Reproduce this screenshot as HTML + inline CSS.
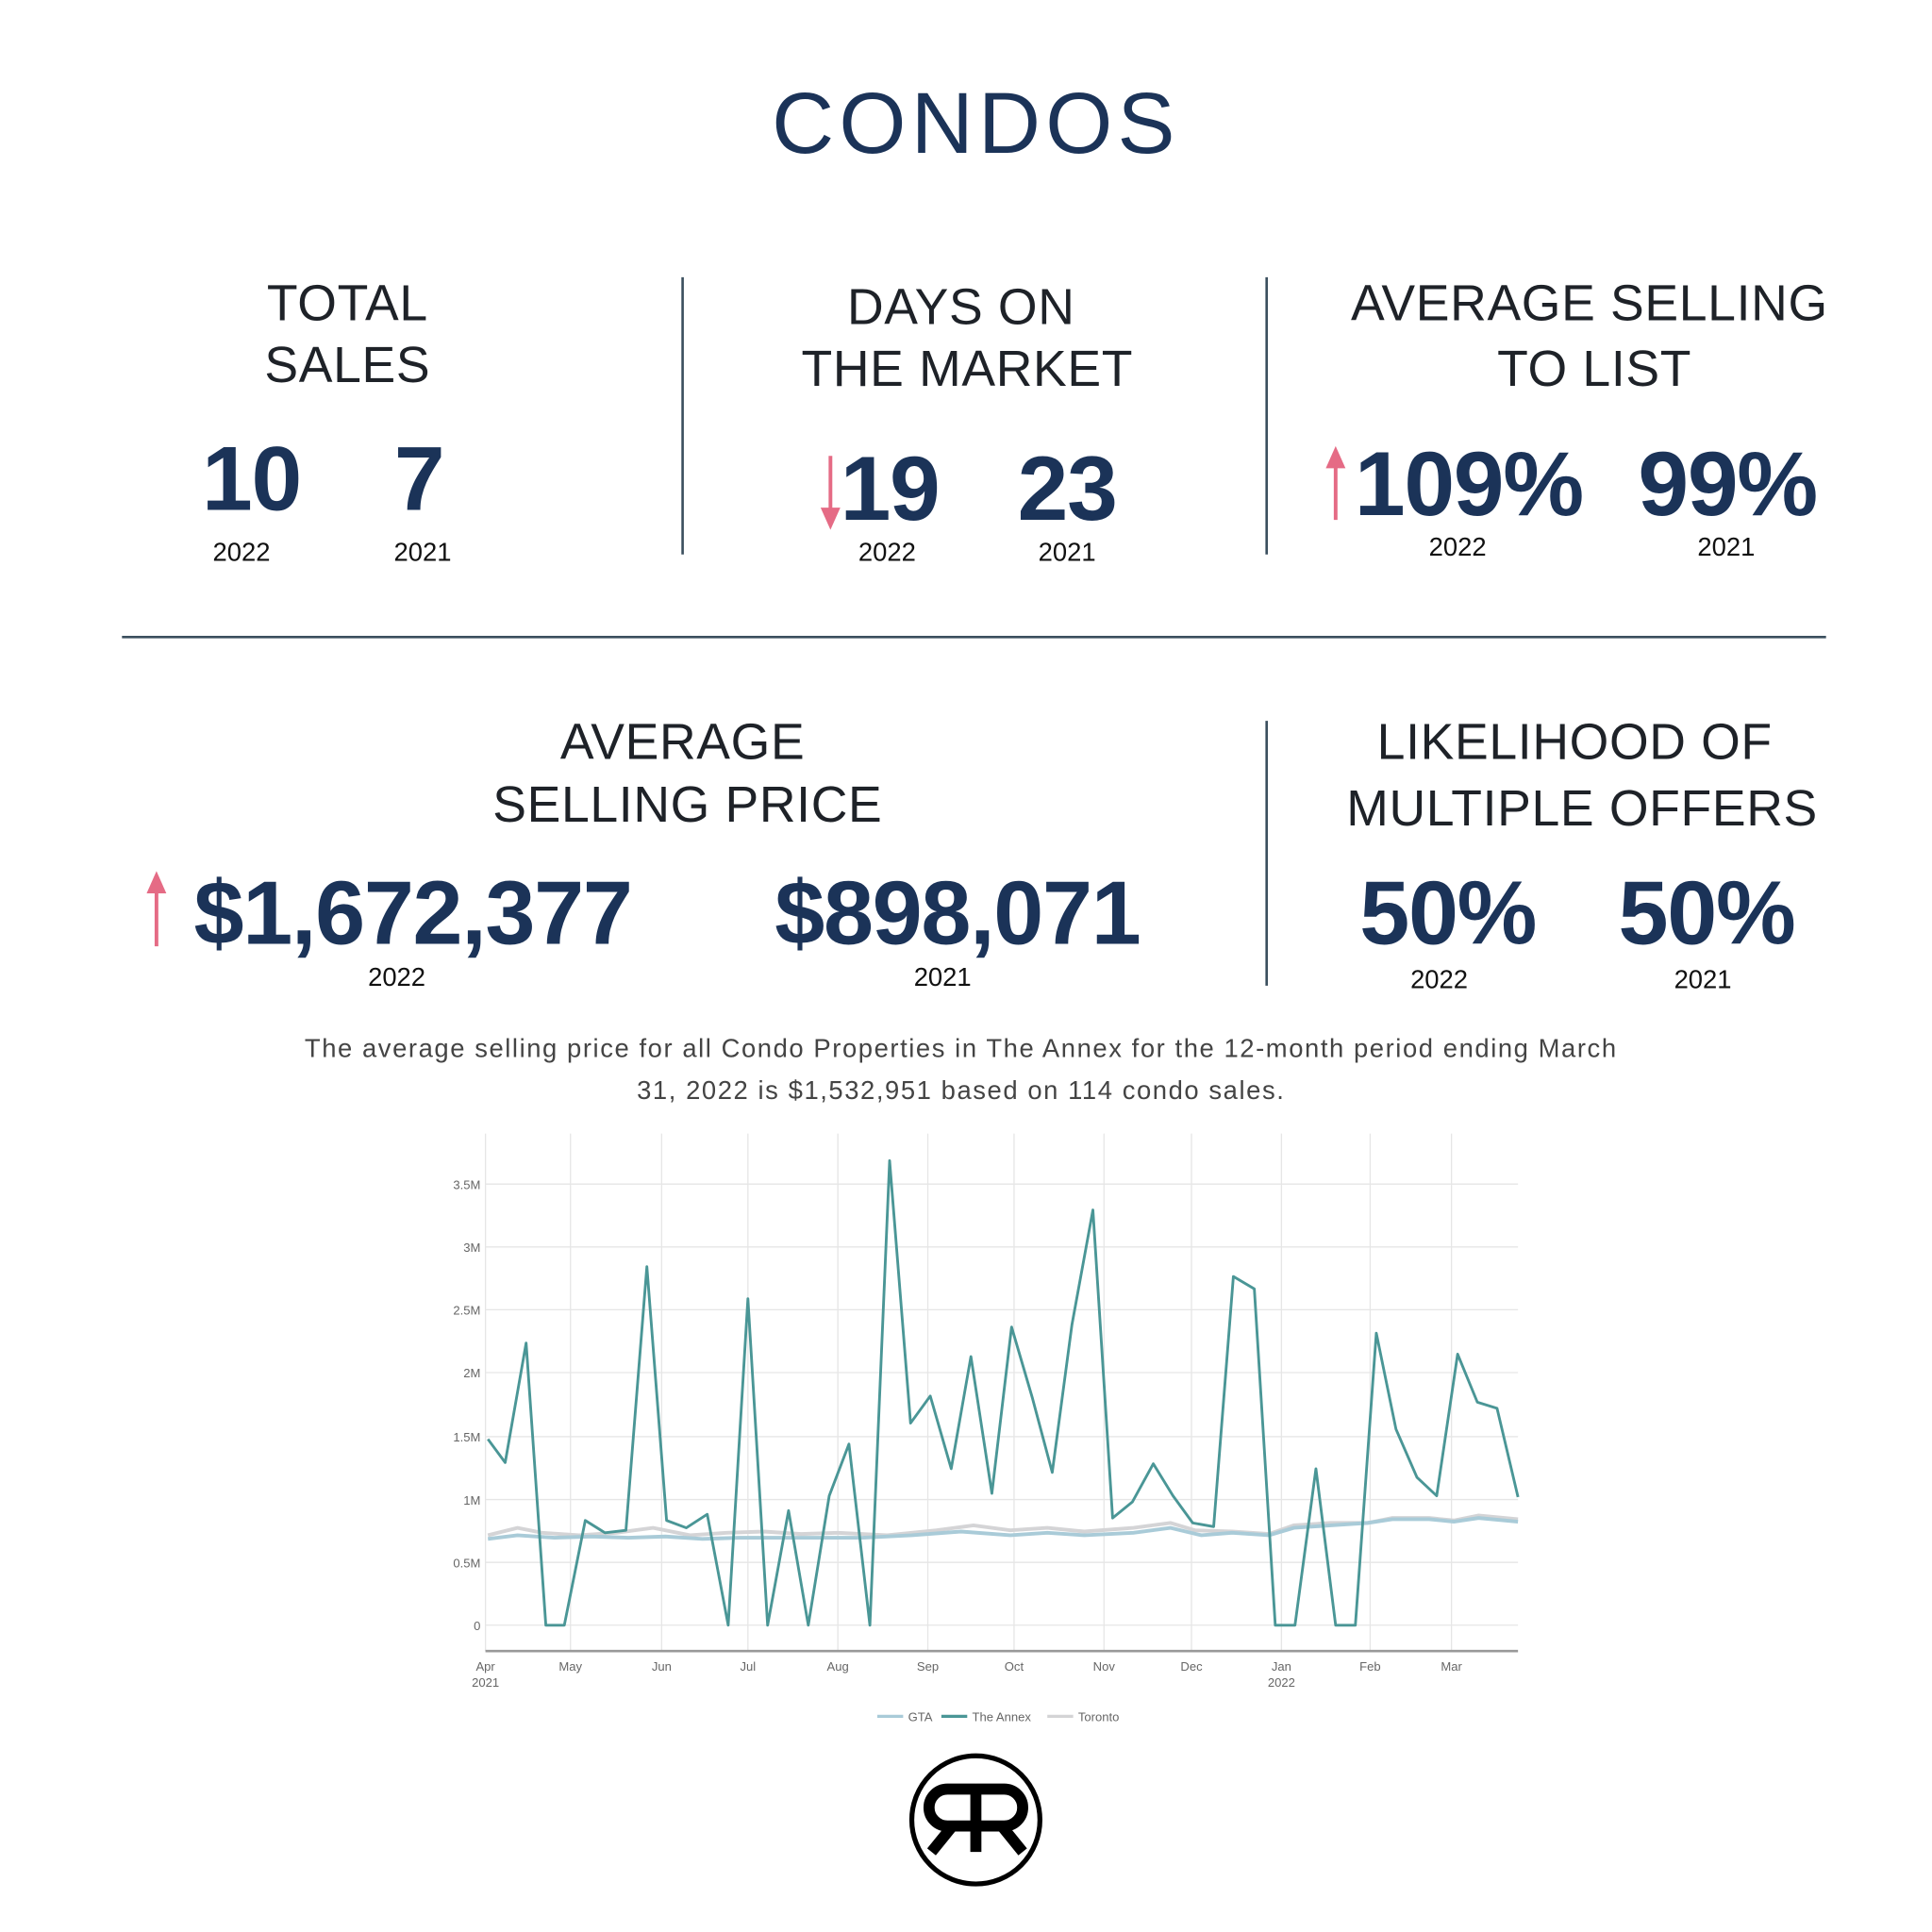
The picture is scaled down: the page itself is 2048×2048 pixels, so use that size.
<!DOCTYPE html>
<html><head><meta charset="utf-8"><style>
html,body{margin:0;padding:0;background:#fff;width:2048px;height:2048px;overflow:hidden}
svg{display:block}
text{font-family:"Liberation Sans",sans-serif}
.h{font-size:41px;fill:#1e2228;text-anchor:middle;letter-spacing:0.5px}
.n{font-size:74px;fill:#1b3358;font-weight:bold;text-anchor:middle;letter-spacing:-1px}
.p{font-size:73px;fill:#1b3358;font-weight:bold;text-anchor:middle;letter-spacing:-1px}
.y{font-size:21px;fill:#111;text-anchor:middle}
.t{font-size:10px;fill:#666;text-anchor:end}
.m{font-size:10px;fill:#666;text-anchor:middle}
</style></head><body>
<svg width="2048" height="2048" viewBox="0 0 1568 1568" xmlns="http://www.w3.org/2000/svg">
<rect width="1568" height="1568" fill="#fff"/>
<text x="792" y="124" font-size="70" fill="#1b3358" text-anchor="middle" letter-spacing="4">CONDOS</text>

<text class="h" x="282" y="260">TOTAL</text><text class="h" x="282" y="310">SALES</text>
<text class="h" x="780" y="263">DAYS ON</text><text class="h" x="785" y="313">THE MARKET</text>
<text class="h" x="1290" y="260">AVERAGE SELLING</text><text class="h" x="1294" y="313">TO LIST</text>

<line x1="554" y1="225" x2="554" y2="450" stroke="#3b4f5e" stroke-width="2"/>
<line x1="1028" y1="225" x2="1028" y2="450" stroke="#3b4f5e" stroke-width="2"/>
<line x1="99" y1="517" x2="1482" y2="517" stroke="#3b4f5e" stroke-width="2"/>
<line x1="1028" y1="585" x2="1028" y2="800" stroke="#3b4f5e" stroke-width="2"/>

<text class="n" x="204" y="414">10</text><text class="n" x="340" y="414">7</text>
<text class="y" x="196" y="455">2022</text><text class="y" x="343" y="455">2021</text>

<line x1="674" y1="370" x2="674" y2="420" stroke="#e56b85" stroke-width="3"/>
<polygon points="666,412 682,412 674,430" fill="#e56b85"/>
<text class="n" x="722" y="422">19</text><text class="n" x="866" y="422">23</text>
<text class="y" x="720" y="455">2022</text><text class="y" x="866" y="455">2021</text>

<line x1="1084" y1="372" x2="1084" y2="422" stroke="#e56b85" stroke-width="3"/>
<polygon points="1076,380 1092,380 1084,362" fill="#e56b85"/>
<text class="n" x="1192" y="418">109%</text><text class="n" x="1402" y="418">99%</text>
<text class="y" x="1183" y="451">2022</text><text class="y" x="1401" y="451">2021</text>

<text class="h" x="554" y="616">AVERAGE</text><text class="h" x="558" y="667">SELLING PRICE</text>
<text class="h" x="1278" y="616">LIKELIHOOD OF</text><text class="h" x="1284" y="670">MULTIPLE OFFERS</text>

<line x1="127" y1="717" x2="127" y2="768" stroke="#e56b85" stroke-width="3"/>
<polygon points="119,725 135,725 127,707" fill="#e56b85"/>
<text class="p" x="335" y="766">$1,672,377</text><text class="p" x="777" y="766">$898,071</text>
<text class="y" x="322" y="800">2022</text><text class="y" x="765" y="800">2021</text>
<text class="p" x="1175" y="766">50%</text><text class="p" x="1385" y="766">50%</text>
<text class="y" x="1168" y="802">2022</text><text class="y" x="1382" y="802">2021</text>

<text x="780" y="858" font-size="21" fill="#444" text-anchor="middle" letter-spacing="1.2">The average selling price for all Condo Properties in The Annex for the 12-month period ending March</text>
<text x="780" y="892" font-size="21" fill="#444" text-anchor="middle" letter-spacing="1.2">31, 2022 is $1,532,951 based on 114 condo sales.</text>

<g stroke="#e6e6e6" stroke-width="1">
<line x1="394" y1="920" x2="394" y2="1340"/><line x1="463" y1="920" x2="463" y2="1340"/><line x1="537" y1="920" x2="537" y2="1340"/><line x1="607" y1="920" x2="607" y2="1340"/><line x1="680" y1="920" x2="680" y2="1340"/><line x1="753" y1="920" x2="753" y2="1340"/><line x1="823" y1="920" x2="823" y2="1340"/><line x1="896" y1="920" x2="896" y2="1340"/><line x1="967" y1="920" x2="967" y2="1340"/><line x1="1040" y1="920" x2="1040" y2="1340"/><line x1="1112" y1="920" x2="1112" y2="1340"/><line x1="1178" y1="920" x2="1178" y2="1340"/>
<line x1="394" y1="961" x2="1232" y2="961"/><line x1="394" y1="1012" x2="1232" y2="1012"/><line x1="394" y1="1063" x2="1232" y2="1063"/><line x1="394" y1="1114" x2="1232" y2="1114"/><line x1="394" y1="1166" x2="1232" y2="1166"/><line x1="394" y1="1217" x2="1232" y2="1217"/><line x1="394" y1="1268" x2="1232" y2="1268"/><line x1="394" y1="1319" x2="1232" y2="1319"/>
</g>
<line x1="394" y1="1340" x2="1232" y2="1340" stroke="#999" stroke-width="2"/>
<text class="t" x="390" y="965">3.5M</text><text class="t" x="390" y="1016">3M</text><text class="t" x="390" y="1067">2.5M</text><text class="t" x="390" y="1118">2M</text><text class="t" x="390" y="1170">1.5M</text><text class="t" x="390" y="1221">1M</text><text class="t" x="390" y="1272">0.5M</text><text class="t" x="390" y="1323">0</text>
<g class="m">
<text class="m" x="394" y="1356">Apr</text><text class="m" x="394" y="1369">2021</text><text class="m" x="463" y="1356">May</text><text class="m" x="537" y="1356">Jun</text><text class="m" x="607" y="1356">Jul</text><text class="m" x="680" y="1356">Aug</text><text class="m" x="753" y="1356">Sep</text><text class="m" x="823" y="1356">Oct</text><text class="m" x="896" y="1356">Nov</text><text class="m" x="967" y="1356">Dec</text><text class="m" x="1040" y="1356">Jan</text><text class="m" x="1040" y="1369">2022</text><text class="m" x="1112" y="1356">Feb</text><text class="m" x="1178" y="1356">Mar</text>
</g>
<polyline fill="none" stroke="#d4d4d6" stroke-width="3" points="396,1246 420,1240 440,1244 470,1246 500,1244 530,1240 560,1246 590,1244 620,1243 650,1245 680,1244 720,1246 760,1242 790,1238 820,1242 850,1240 880,1243 920,1240 950,1236 970,1242 1000,1243 1030,1245 1050,1238 1080,1236 1110,1236 1130,1232 1160,1232 1180,1234 1200,1230 1232,1233"/>
<polyline fill="none" stroke="#a9cbd8" stroke-width="3" points="396,1249 420,1246 450,1248 480,1247 510,1248 540,1247 570,1249 600,1248 630,1248 660,1248 700,1248 740,1246 780,1243 820,1246 850,1244 880,1246 920,1244 950,1240 975,1246 1000,1244 1030,1246 1050,1240 1080,1238 1110,1236 1130,1233 1160,1233 1180,1235 1200,1232 1232,1235"/>
<polyline fill="none" stroke="#4a9696" stroke-width="2.2" stroke-linejoin="round" points="396,1168 410,1187 427,1090 443,1319 458,1319 475,1234 491,1244 508,1242 525,1028 541,1234 557,1240 574,1229 591,1319 607,1054 623,1319 640,1226 656,1319 673,1214 689,1172 706,1319 722,942 739,1155 755,1133 772,1192 788,1101 805,1212 821,1077 838,1135 854,1195 870,1075 887,982 903,1232 919,1219 936,1188 952,1214 968,1236 985,1239 1001,1036 1018,1046 1035,1319 1051,1319 1068,1192 1084,1319 1100,1319 1117,1082 1133,1160 1150,1199 1166,1214 1183,1099 1199,1138 1215,1143 1232,1215"/>

<line x1="712" y1="1393" x2="733" y2="1393" stroke="#a9cbd8" stroke-width="2.5"/><text x="737" y="1397" font-size="10" fill="#666">GTA</text>
<line x1="764" y1="1393" x2="785" y2="1393" stroke="#4a9696" stroke-width="2.5"/><text x="789" y="1397" font-size="10" fill="#666">The Annex</text>
<line x1="850" y1="1393" x2="871" y2="1393" stroke="#d4d4d6" stroke-width="2.5"/><text x="875" y="1397" font-size="10" fill="#666">Toronto</text>

<circle cx="792" cy="1477" r="52" fill="none" stroke="#000" stroke-width="4"/>
<g fill="none" stroke="#000" stroke-width="9">
<line x1="792" y1="1448" x2="792" y2="1503"/>
<path d="M792,1452 H769 A15,15 0 0 0 769,1482 H792"/>
<path d="M792,1452 H815 A15,15 0 0 1 815,1482 H792"/>
<line x1="773" y1="1482" x2="756" y2="1503"/>
<line x1="813" y1="1482" x2="830" y2="1503"/>
</g>
</svg>
</body></html>
